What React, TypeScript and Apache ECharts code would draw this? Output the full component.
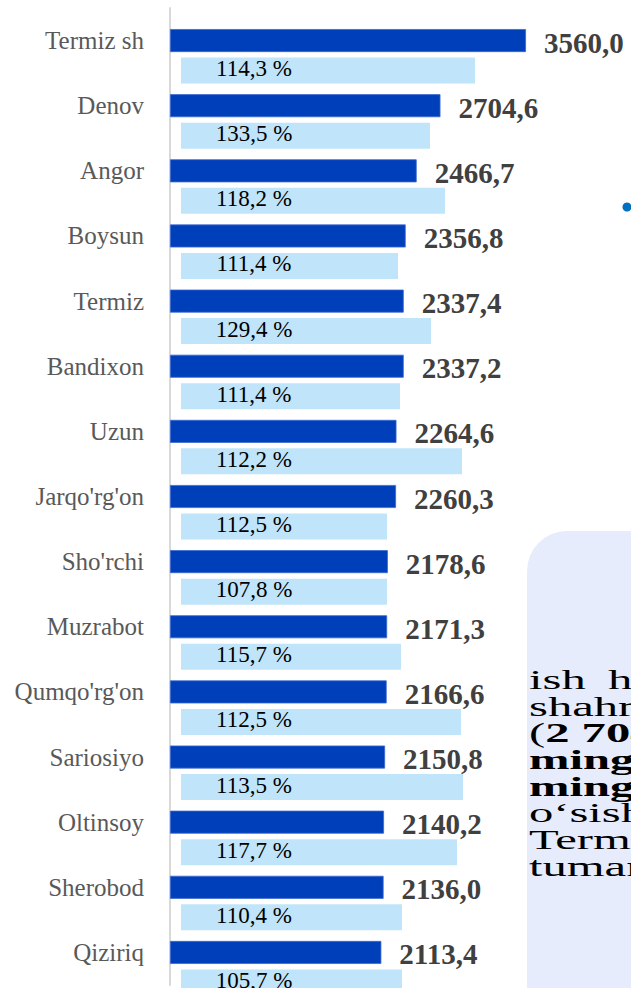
import React, { useEffect, useRef } from "react";
import * as echarts from "echarts";

const categories = [
  "Termiz sh", "Denov", "Angor", "Boysun", "Termiz", "Bandixon", "Uzun",
  "Jarqo'rg'on", "Sho'rchi", "Muzrabot", "Qumqo'rg'on", "Sariosiyo",
  "Oltinsoy", "Sherobod", "Qiziriq",
];
const wageValues = [
  3560.0, 2704.6, 2466.7, 2356.8, 2337.4, 2337.2, 2264.6, 2260.3,
  2178.6, 2171.3, 2166.6, 2150.8, 2140.2, 2136.0, 2113.4,
];
const growthPercent = [
  114.3, 133.5, 118.2, 111.4, 129.4, 111.4, 112.2, 112.5,
  107.8, 115.7, 112.5, 113.5, 117.7, 110.4, 105.7,
];
// lengths of the pale backing bars (axis units)
const growthBarValues = [
  2940, 2490, 2640, 2170, 2500, 2190, 2810, 2060,
  2060, 2200, 2800, 2820, 2760, 2210, 2210,
];
const boxLines = [
  { text: "ish", bold: false },
  { text: "shahrida", bold: false },
  { text: "({b|2 704,6 ming so‘m)}", bold: false },
  { text: "ming so‘m", bold: true },
  { text: "ming so‘m", bold: true },
  { text: "o‘sish", bold: false },
  { text: "Termiz", bold: false },
  { text: "tumanida", bold: false },
];

const fmt = (v: number) => v.toFixed(1).replace(".", ",");

export default function App() {
  const ref = useRef<HTMLDivElement>(null);
  useEffect(() => {
    document.body.style.margin = "0";
    const chart = echarts.init(ref.current!, undefined, { renderer: "svg" });
    const FS = 27;
    const SX = 1.8;
    const boxGraphics: any[] = boxLines.map((l, i) => ({
      type: "text",
      x: 529,
      y: 680 + i * 26.7,
      scaleX: SX,
      z: 10,
      style: {
        text: l.text,
        fill: "#000",
        fontFamily: "Liberation Serif",
        fontSize: FS,
        fontWeight: l.bold ? "bold" : "normal",
        verticalAlign: "middle",
        rich: { b: { fontFamily: "Liberation Serif", fontSize: FS, fontWeight: "bold", fill: "#000" } },
      },
    }));
    boxGraphics.push({
      type: "text",
      x: 608,
      y: 680,
      scaleX: SX,
      z: 10,
      style: {
        text: "haqi",
        fill: "#000",
        fontFamily: "Liberation Serif",
        fontSize: FS,
        verticalAlign: "middle",
      },
    });
    chart.setOption({
      animation: false,
      backgroundColor: "#ffffff",
      grid: [
        { left: 170, top: 8, width: 400, height: 977, outerBoundsMode: "none" },
        { left: 181, top: 38, width: 400, height: 977, outerBoundsMode: "none" },
      ],
      xAxis: [
        { gridIndex: 0, type: "value", min: 0, max: 4000, show: false },
        { gridIndex: 1, type: "value", min: 0, max: 4000, show: false },
      ],
      yAxis: [
        {
          gridIndex: 0,
          type: "category",
          data: categories,
          inverse: true,
          axisLine: { show: true, lineStyle: { color: "#D9D9D9", width: 2 } },
          axisTick: { show: false },
          splitLine: { show: false },
          axisLabel: {
            margin: 26,
            color: "#595959",
            fontFamily: "Liberation Serif",
            fontSize: 25,
          },
        },
        {
          gridIndex: 1,
          type: "category",
          data: categories,
          inverse: true,
          show: false,
        },
      ],
      graphic: [
        {
          type: "rect",
          shape: { x: 527, y: 531, width: 160, height: 500, r: 40 },
          style: { fill: "#E6ECFB" },
          z: 5,
        },
        {
          type: "circle",
          shape: { cx: 627, cy: 207, r: 4.5 },
          style: { fill: "#0070C0" },
          z: 5,
        },
        ...boxGraphics,
      ],
      series: [
        {
          type: "bar",
          xAxisIndex: 1,
          yAxisIndex: 1,
          data: growthBarValues,
          barWidth: 26,
          z: 1,
          itemStyle: { color: "#C0E4FA" },
          label: {
            show: true,
            position: [73, "50%"],
            offset: [0, -2],
            align: "center",
            verticalAlign: "middle",
            fontFamily: "Liberation Serif",
            fontSize: 23,
            color: "#000000",
            formatter: (p: any) => fmt(growthPercent[p.dataIndex]) + " %",
          },
        },
        {
          type: "bar",
          xAxisIndex: 0,
          yAxisIndex: 0,
          data: wageValues,
          barWidth: 23,
          z: 2,
          itemStyle: { color: "#003FBA", borderColor: "#3a68d0", borderWidth: 0.8 },
          label: {
            show: true,
            position: "right",
            distance: 18,
            offset: [0, 2],
            fontFamily: "Liberation Serif",
            fontWeight: "bold",
            fontSize: 29,
            color: "#404040",
            formatter: (p: any) => fmt(p.value),
          },
        },
      ],
    });
    return () => chart.dispose();
  }, []);
  return (
    <div
      ref={ref}
      style={{ position: "absolute", left: 0, top: 0, width: 631, height: 988, overflow: "hidden" }}
    />
  );
}
